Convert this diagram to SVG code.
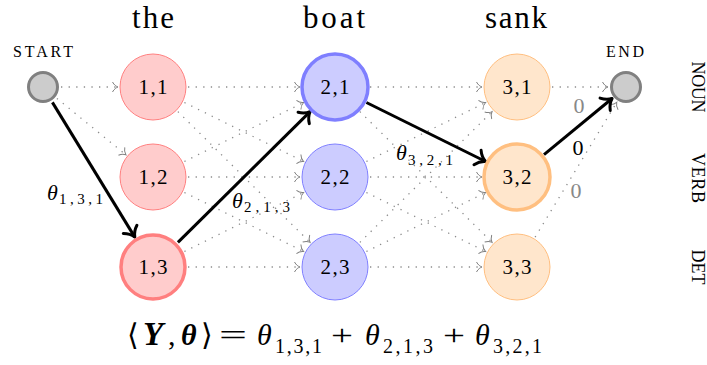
<svg xmlns="http://www.w3.org/2000/svg" width="707" height="365" viewBox="0 0 707 365" font-family="'Liberation Serif', 'Times New Roman', 'DejaVu Serif', serif">
<style>
.dot{stroke:#8c8c8c;stroke-width:1.3;stroke-dasharray:1.3 6.3;fill:none;marker-end:url(#ag)}
.sol{stroke:#000;stroke-width:3;fill:none;marker-end:url(#ab)}
.c1{fill:#ffcccc;stroke:#ff8080;stroke-width:1}
.c2{fill:#ccccff;stroke:#8080ff;stroke-width:1}
.c3{fill:#ffe6cc;stroke:#ffbf80;stroke-width:1}
.thick{stroke-width:3.5}
.se{fill:#cccccc;stroke:#808080;stroke-width:3}
.lab{font-size:21px;text-anchor:middle}
.word{font-size:31px;text-anchor:middle}
.cap{font-size:16px;text-anchor:middle}
.tag{font-size:18px;text-anchor:middle}
.th{font-size:22px;font-style:italic}
.sub{font-size:15px}
.zero{font-size:22px;text-anchor:middle}
.gray{fill:#888888}
.f{font-size:30px}
.fs{font-size:20px}
</style>
<defs>
<marker id="ag" markerUnits="userSpaceOnUse" orient="auto" refX="0" refY="0" markerWidth="10" markerHeight="12" overflow="visible">
<path d="M-5.5,-5 C-4,-2 -1.5,-0.5 0,0 C-1.5,0.5 -4,2 -5.5,5" fill="none" stroke="#808080" stroke-width="1"/>
</marker>
<marker id="ab" markerUnits="userSpaceOnUse" orient="auto" refX="0" refY="0" markerWidth="14" markerHeight="18" overflow="visible">
<path d="M-9,-8 C-6,-3 -2,-0.8 0,0 C-2,0.8 -6,3 -9,8" fill="none" stroke="#000" stroke-width="3" stroke-linecap="round" stroke-linejoin="round"/>
</marker>
</defs>

<g id="connectors">
<line class="dot" x1="61" y1="87" x2="118" y2="87"/>
<line class="dot" x1="56.9" y1="98.4" x2="125.9" y2="154.8"/>
<line class="dot" x1="188" y1="87" x2="300" y2="87"/>
<line class="dot" x1="188" y1="177" x2="300" y2="177"/>
<line class="dot" x1="188" y1="267" x2="300" y2="267"/>
<line class="dot" x1="184.4" y1="102.5" x2="303.6" y2="161.5"/>
<line class="dot" x1="184.4" y1="192.5" x2="303.6" y2="251.5"/>
<line class="dot" x1="184.4" y1="161.5" x2="303.6" y2="102.5"/>
<line class="dot" x1="184.4" y1="251.5" x2="303.6" y2="192.5"/>
<line class="dot" x1="177.9" y1="111.6" x2="310.1" y2="242.4"/>
<line class="dot" x1="370" y1="87" x2="482" y2="87"/>
<line class="dot" x1="370" y1="177" x2="482" y2="177"/>
<line class="dot" x1="370" y1="267" x2="482" y2="267"/>
<line class="dot" x1="366.4" y1="192.5" x2="485.6" y2="251.5"/>
<line class="dot" x1="366.4" y1="161.5" x2="485.6" y2="102.5"/>
<line class="dot" x1="366.4" y1="251.5" x2="485.6" y2="192.5"/>
<line class="dot" x1="359.9" y1="111.6" x2="492.1" y2="242.4"/>
<line class="dot" x1="359.9" y1="242.4" x2="492.1" y2="111.6"/>
<line class="dot" x1="552" y1="87" x2="608" y2="87"/>
<line class="dot" x1="535.1" y1="237.1" x2="616.7" y2="102.4"/>
<line class="sol" x1="52.4" y1="102.4" x2="134.8" y2="237.1"/>
<line class="sol" x1="177.9" y1="242.4" x2="310.1" y2="111.6"/>
<line class="sol" x1="366.4" y1="102.5" x2="485.6" y2="161.5"/>
<line class="sol" x1="544" y1="154.7" x2="612.1" y2="98.5"/>
<text class="th" x="47" y="200">θ</text><text class="sub" x="59" y="203.5" textLength="44">1,3,1</text>
<text class="th" x="232" y="208">θ</text><text class="sub" x="244" y="212" textLength="46">2,1,3</text>
<text class="th" x="396" y="160">θ</text><text class="sub" x="408" y="165" textLength="45">3,2,1</text>
<text class="zero gray" x="579" y="113">0</text>
<text class="zero" x="578" y="155">0</text>
<text class="zero gray" x="576" y="198">0</text>
</g>

<g id="start"><circle class="se" cx="43" cy="87" r="14.5"/><text class="cap" x="43" y="57" textLength="60">START</text></g>
<g id="end"><circle class="se" cx="626" cy="87" r="14.5"/><text class="cap" x="625" y="57" textLength="38">END</text></g>

<g id="n11"><circle class="c1" cx="153" cy="87" r="33"/><text class="lab" x="153" y="94" textLength="29">1,1</text></g>
<g id="n12"><circle class="c1" cx="153" cy="177" r="33"/><text class="lab" x="153" y="184" textLength="29">1,2</text></g>
<g id="n13"><circle class="c1 thick" cx="153" cy="267" r="32" style="stroke:#ff7f7f"/><text class="lab" x="153" y="274" textLength="29">1,3</text></g>
<g id="n21"><circle class="c2 thick" cx="335" cy="87" r="33" style="stroke:#7f7fff"/><text class="lab" x="335" y="94" textLength="29">2,1</text></g>
<g id="n22"><circle class="c2" cx="335" cy="177" r="33"/><text class="lab" x="335" y="184" textLength="29">2,2</text></g>
<g id="n23"><circle class="c2" cx="335" cy="267" r="33"/><text class="lab" x="335" y="274" textLength="29">2,3</text></g>
<g id="n31"><circle class="c3" cx="517" cy="87" r="33"/><text class="lab" x="517" y="94" textLength="29">3,1</text></g>
<g id="n32"><circle class="c3 thick" cx="517" cy="177" r="33"/><text class="lab" x="517" y="184" textLength="29">3,2</text></g>
<g id="n33"><circle class="c3" cx="517" cy="267" r="33"/><text class="lab" x="517" y="274" textLength="29">3,3</text></g>

<g id="words">
<text class="word" x="153" y="28" textLength="42">the</text>
<text class="word" x="334" y="28" textLength="62">boat</text>
<text class="word" x="516" y="28" textLength="62">sank</text>
</g>
<g id="tags">
<text class="tag" transform="translate(692,87) rotate(90)" textLength="51">NOUN</text>
<text class="tag" transform="translate(692,178) rotate(90)" textLength="50">VERB</text>
<text class="tag" transform="translate(692,267) rotate(90)" textLength="35">DET</text>
</g>
<g id="formula">
<text class="f" x="127" y="345">⟨</text>
<text class="f" x="143" y="345" style="font-weight:bold;font-style:italic;font-size:33px">Y</text>
<text class="f" x="168" y="345">,</text>
<text class="f" x="181" y="345" style="font-weight:bold;font-style:italic">θ</text>
<text class="f" x="201" y="345">⟩</text>
<text class="f" x="219" y="345" textLength="28" lengthAdjust="spacingAndGlyphs">=</text>
<text class="f" x="257" y="345" style="font-style:italic">θ</text>
<text class="fs" x="275" y="353" textLength="47">1,3,1</text>
<text class="f" x="331" y="345" textLength="22" lengthAdjust="spacingAndGlyphs">+</text>
<text class="f" x="365" y="345" style="font-style:italic">θ</text>
<text class="fs" x="383" y="353" textLength="50">2,1,3</text>
<text class="f" x="443" y="345" textLength="22" lengthAdjust="spacingAndGlyphs">+</text>
<text class="f" x="475" y="345" style="font-style:italic">θ</text>
<text class="fs" x="493" y="353" textLength="49">3,2,1</text>
</g>
</svg>
